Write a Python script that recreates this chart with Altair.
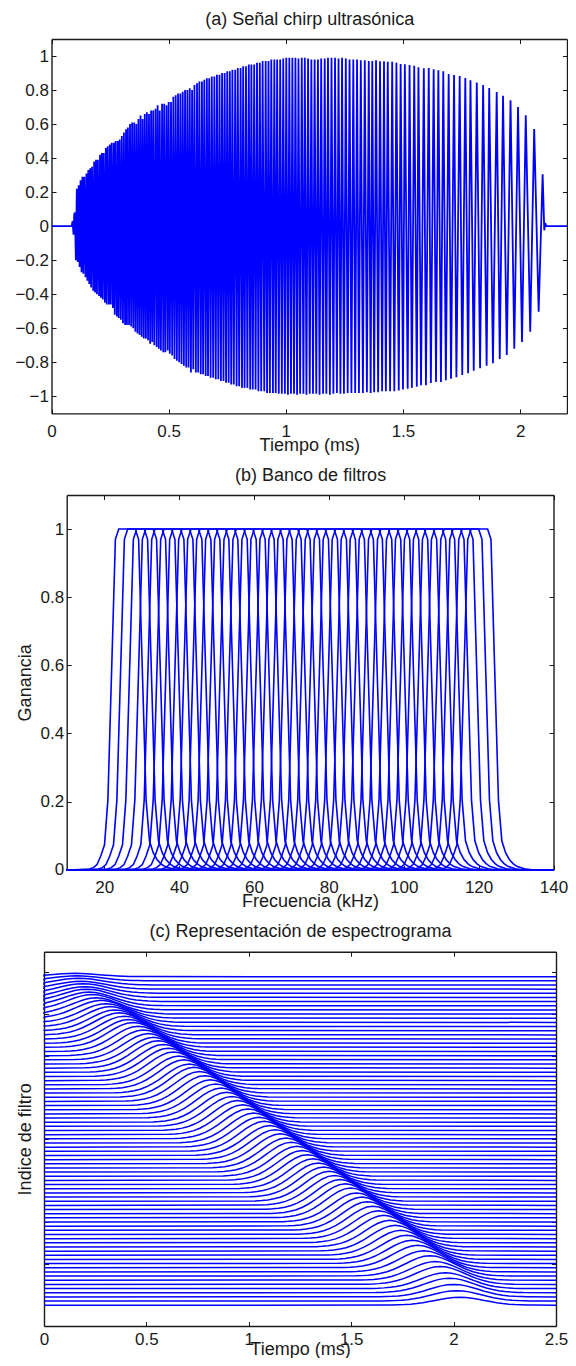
import altair as alt
import pandas as pd

W, H = 560, 1350
FONT = "Liberation Sans"
BLUE = "#0000ff"
INK = "#1a1a1a"

# ---------- (a) chirp extrema ----------
lead_t = [0.0, 0.086, 0.090, 0.094, 0.097]
lead_y = [0.0, 0.0, 0.03, -0.05, 0.07]
top_t = [
 .100,.108,.116,.124,.132,.140,.149,.157,.165,.173,
 .182,.190,.198,.207,.215,.223,.232,.240,.249,.257,
 .266,.274,.283,.291,.300,.309,.318,.326,.335,.344,
 .353,.362,.371,.380,.389,.398,.407,.416,.425,.434,
 .444,.453,.462,.472,.481,.491,.500,.510,.520,.530,
 .540,.550,.560,.570,.580,.590,.600,.610,.621,.631,
 .642,.652,.663,.673,.684,.695,.706,.717,.728,.739,
 .750,.761,.772,.784,.795,.807,.818,.830,.842,.853,
 .865,.877,.889,.901,.914,.926,.938,.951,.963,.976,
 .989,1.002,1.015,1.028,1.041,1.054,1.068,1.081,1.095,1.109,
 1.123,1.137,1.151,1.166,1.180,1.195,1.210,1.225,1.240,1.256,
 1.272,1.288,1.304,1.320,1.337,1.354,1.369,1.385,1.402,1.419,
 1.435,1.454,1.472,1.490,1.508,1.528,1.548,1.566,1.589,1.610,
 1.631,1.651,1.672,1.695,1.718,1.742,1.766,1.788,1.815,1.842,
 1.868,1.900,1.927,1.959,1.991,2.024,2.060,2.096]
top_y = [
 .08,.22,.24,.27,.29,.29,.31,.33,.34,.35,
 .38,.39,.39,.42,.43,.43,.46,.47,.48,.49,
 .49,.50,.50,.51,.53,.55,.57,.58,.60,.61,
 .61,.60,.63,.65,.63,.66,.67,.66,.68,.68,
 .69,.71,.68,.72,.72,.71,.73,.73,.76,.77,
 .78,.78,.79,.80,.80,.81,.80,.83,.84,.85,
 .85,.86,.87,.87,.88,.88,.89,.89,.90,.90,
 .91,.91,.92,.92,.93,.93,.94,.94,.95,.95,
 .95,.96,.96,.97,.97,.97,.98,.98,.98,.98,
 .985,.99,.99,.99,.99,.985,.99,.99,.985,.98,
 .98,.98,.985,.985,.99,.99,.99,.985,.99,.985,
 .98,.98,.98,.975,.975,.97,.97,.975,.969,.969,
 .967,.967,.961,.953,.951,.947,.943,.934,.928,.93,
 .922,.916,.91,.894,.888,.883,.871,.857,.844,.83,
 .812,.789,.767,.74,.70,.652,.571,.305]
bottom_t = [
 .104,.112,.120,.128,.136,.145,.153,.161,.169,.178,
 .186,.194,.203,.211,.219,.228,.236,.245,.253,.262,
 .270,.279,.287,.296,.305,.314,.322,.331,.340,.349,
 .358,.367,.376,.385,.394,.403,.412,.421,.430,.439,
 .449,.458,.467,.477,.486,.496,.505,.515,.525,.535,
 .545,.555,.565,.575,.585,.595,.605,.616,.626,.637,
 .647,.658,.668,.679,.690,.701,.712,.723,.734,.745,
 .756,.767,.778,.790,.801,.813,.824,.836,.848,.859,
 .871,.883,.895,.908,.920,.932,.945,.957,.970,.983,
 .996,1.009,1.022,1.035,1.048,1.061,1.075,1.088,1.102,1.116,
 1.130,1.144,1.159,1.173,1.188,1.203,1.218,1.233,1.248,1.264,
 1.280,1.296,1.312,1.329,1.346,1.362,1.377,1.394,1.411,1.427,
 1.445,1.463,1.482,1.500,1.520,1.538,1.559,1.577,1.598,1.619,
 1.641,1.662,1.683,1.705,1.728,1.753,1.778,1.802,1.829,1.857,
 1.884,1.913,1.943,1.975,2.008,2.043,2.079]
bottom_y = [
 -.20,-.21,-.24,-.27,-.28,-.30,-.32,-.34,-.36,-.38,
 -.39,-.40,-.41,-.42,-.43,-.45,-.46,-.46,-.46,-.48,
 -.52,-.53,-.54,-.55,-.57,-.58,-.58,-.58,-.59,-.60,
 -.62,-.63,-.64,-.65,-.66,-.66,-.67,-.69,-.68,-.70,
 -.71,-.72,-.73,-.74,-.74,-.73,-.75,-.76,-.78,-.79,
 -.80,-.81,-.82,-.83,-.83,-.86,-.84,-.86,-.86,-.87,
 -.87,-.88,-.88,-.89,-.89,-.90,-.90,-.91,-.91,-.92,
 -.92,-.93,-.93,-.94,-.94,-.95,-.95,-.95,-.96,-.96,
 -.96,-.97,-.97,-.97,-.98,-.98,-.98,-.98,-.985,-.985,
 -.985,-.99,-.985,-.985,-.99,-.985,-.985,-.99,-.985,-.985,
 -.985,-.99,-.985,-.985,-.99,-.985,-.98,-.985,-.985,-.98,
 -.98,-.98,-.98,-.98,-.975,-.98,-.975,-.975,-.97,-.97,
 -.97,-.97,-.965,-.96,-.955,-.95,-.943,-.935,-.934,-.922,
 -.915,-.916,-.905,-.896,-.887,-.875,-.864,-.85,-.835,-.82,
 -.805,-.78,-.757,-.72,-.68,-.62,-.503]
tail_t = [2.103, 2.107, 2.112, 2.2]
tail_y = [-.024, .018, 0.0, 0.0]

# ---------- (b) filter bank ----------
filter_centers = [
 26.1,28.5,30.9,33.3,35.8,38.2,40.6,43.0,45.4,47.8,
 50.2,52.6,55.1,57.5,59.9,62.3,64.7,67.1,69.5,71.9,
 74.4,76.8,79.2,81.6,84.0,86.4,88.8,91.2,93.7,96.1,
 98.5,100.9,103.3,105.7,108.1,110.5,113.0,115.4,117.8,120.2]
filter_offsets = [-14,-10,-9,-8,-7,-6,-5.1,-3.8,-3.1,-2.2,2.2,3.1,3.8,5.1,6,7,8,9,10,12,14]
filter_gains = [0,.002,.006,.015,.04,.073,.205,.7,.97,1,1,.97,.7,.205,.085,.05,.03,.018,.01,.003,0]
freq_limits = [10, 140]

# ---------- (c) spectrogram lines (top line first) ----------
bump_centers = [
 .15,.16,.17,.18,.19,.20,.21,.22,.235,.255,
 .279,.303,.324,.347,.368,.392,.414,.436,.461,.486,
 .51,.535,.558,.584,.608,.633,.659,.683,.71,.733,
 .76,.786,.813,.839,.865,.892,.918,.945,.971,.997,
 1.024,1.05,1.076,1.103,1.129,1.155,1.182,1.208,1.235,1.261,
 1.287,1.314,1.34,1.366,1.393,1.419,1.446,1.472,1.498,1.526,
 1.553,1.58,1.606,1.633,1.66,1.688,1.715,1.742,1.77,1.797,
 1.825,1.855,1.885,1.91,1.935,1.96,1.98,2.0,2.015,2.03]
bump_heights = [
 .8,1.2,1.6,1.9,2.3,2.6,3.0,3.3,3.7,3.9,
 4.3,4.5,4.8,5.0,5.3,5.5,5.7,6.0,6.1,6.2,
 6.3,6.4,6.6,6.7,6.8,6.9,6.9,7.0,7.0,7.2,
 7.2,7.2,7.2,7.2,7.2,7.2,7.2,7.2,7.2,7.2,
 7.2,7.2,7.2,7.2,7.2,7.2,7.2,7.2,7.2,7.2,
 7.2,7.2,7.2,7.2,7.2,7.2,7.2,7.2,7.2,7.0,
 7.0,6.9,6.8,6.7,6.6,6.4,6.2,6.0,5.8,5.6,
 5.4,5.1,4.9,4.5,4.3,3.8,3.5,3.0,2.5,1.9]
bump_width = 0.12
bump_u = [-3,-2.75,-2.5,-2.25,-2,-1.75,-1.5,-1.25,-1,-.75,-.5,-.25,0,.25,.5,.75,1,1.25,1.5,1.75,2,2.25,2.5,2.75,3]
bump_v = [.011,.023,.044,.08,.135,.216,.325,.458,.607,.755,.882,.969,1,.969,.882,.755,.607,.458,.325,.216,.135,.08,.044,.023,.011]
time_limits_c = [0.0, 2.5]

# ---------- tick values and labels ----------
a_xticks = [0, .5, 1, 1.5, 2]
a_yticks = [-1, -.8, -.6, -.4, -.2, 0, .2, .4, .6, .8, 1]
b_xticks = [20, 40, 60, 80, 100, 120, 140]
b_yticks = [0, .2, .4, .6, .8, 1]
c_xticks = [0, .5, 1, 1.5, 2, 2.5]
c_yticks = [0, 10, 20, 30, 40, 50, 60, 70, 80]

# ---------- tables ----------
pts = sorted(list(zip(lead_t, lead_y)) + list(zip(top_t, top_y)) +
             list(zip(bottom_t, bottom_y)) + list(zip(tail_t, tail_y)))
df_a = pd.DataFrame(pts, columns=["x", "y"]).assign(s=0)
df_a["i"] = range(len(df_a))

rows = []
for s, c in enumerate(filter_centers):
    rows.append((s, 0, freq_limits[0], 0))
    for i, (o, g) in enumerate(zip(filter_offsets, filter_gains)):
        rows.append((s, i + 1, c + o, g))
    rows.append((s, 99, freq_limits[1], 0))
df_b = pd.DataFrame(rows, columns=["s", "i", "x", "y"])

rows = []
n = len(bump_centers)
for k, (c, h) in enumerate(zip(bump_centers, bump_heights)):
    base = n - 1 - k
    rows.append((k, -1, -1.0, base))
    for i, (u, v) in enumerate(zip(bump_u, bump_v)):
        rows.append((k, i, c + u * bump_width, base + h * v))
    rows.append((k, 99, time_limits_c[1], base))
df_c = pd.DataFrame(rows, columns=["s", "i", "x", "y"])

# ---------- axis helpers ----------
BASE = dict(grid=False, labelFont=FONT, titleFont=FONT, labelColor=INK, titleColor=INK,
            titleFontWeight="normal", domainColor=INK, tickColor=INK, labelOverlap=False,
            labelFlush=False, titleFontSize=18, labelFontSize=17)
FRAME = 1.4
TICK = 4.5


def scale(domain, rng, clamp=False):
    return alt.Scale(domain=domain, range=rng, nice=False, zero=False, clamp=clamp)


def enc(dx, rx, dy, ry, ax, ay, clamp=False):
    return dict(
        x=alt.X("x:Q", scale=scale(dx, rx, clamp), axis=ax),
        y=alt.Y("y:Q", scale=scale(dy, ry), axis=ay),
    )


def panel(df, dx, rx, dy, ry, xt, yt, xtitle, ytitle, title, stroke, clamp=False, label_y=True,
          ypad=6, tpad=11, xpad=-3, lpad=10):
    x0, x1 = rx
    yb, yt_px = ry
    corners = pd.DataFrame({"x": dx, "y": dy})
    main_x = alt.Axis(orient="bottom", offset=yb - H, values=xt, ticks=False, domain=False,
                      labelPadding=lpad, title=xtitle, titlePadding=xpad, format=".1~f", **BASE)
    main_y = alt.Axis(orient="left", offset=-x0, values=yt, ticks=False, domain=False,
                      labels=label_y, labelPadding=3, title=ytitle, titlePadding=ypad,
                      format=".1~f", **BASE)
    data = alt.Chart(df).mark_line(color=BLUE, strokeWidth=stroke, clip=False).encode(
        detail="s:N", order="i:Q", **enc(dx, rx, dy, ry, main_x, main_y, clamp))
    # bottom and left frame, ticks pointing into the box
    in_a_x = alt.Axis(orient="top", offset=-yb, values=xt, labels=False, title=None,
                      tickSize=TICK, tickWidth=1, domainWidth=FRAME, **BASE)
    in_a_y = alt.Axis(orient="right", offset=x0 - W, values=yt, labels=False, title=None,
                      tickSize=TICK, tickWidth=1, domainWidth=FRAME, **BASE)
    frame_a = alt.Chart(corners).mark_point(opacity=0).encode(
        **enc(dx, rx, dy, ry, in_a_x, in_a_y))
    # top and right frame
    in_b_x = alt.Axis(orient="bottom", offset=yt_px - H, values=xt, labels=False, title=None,
                      tickSize=TICK, tickWidth=1, domainWidth=FRAME, **BASE)
    in_b_y = alt.Axis(orient="left", offset=-x1, values=yt, labels=False, title=None,
                      tickSize=TICK, tickWidth=1, domainWidth=FRAME, **BASE)
    frame_b = alt.Chart(corners).mark_point(opacity=0).encode(
        **enc(dx, rx, dy, ry, in_b_x, in_b_y))
    # panel title, carried by an axis above the box
    t_x = alt.Axis(orient="top", offset=-yt_px, values=[], labels=False, ticks=False, domain=False,
                   title=title, titlePadding=tpad, **BASE)
    heading = alt.Chart(corners).mark_point(opacity=0).encode(
        **enc(dx, rx, dy, ry, t_x, None))
    return [data, frame_a, frame_b, heading]


layers = []
layers += panel(df_a, [0, 2.2], [43.5, 559], [-1.1, 1.1], [405.4, 31], a_xticks, a_yticks,
                "Tiempo (ms)", None, "(a) Señal chirp ultrasónica", 1.8)
layers += panel(df_b, [10, 140], [58.7, 545.5], [0, 1.1], [861.7, 487], b_xticks, b_yticks,
                "Frecuencia (kHz)", "Ganancia", "(b) Banco de filtros", 1.6)
layers += panel(df_c, [0, 2.5], [36, 548], [-5, 85], [1318, 943.7], c_xticks, c_yticks,
                "Tiempo (ms)", "Indice de filtro", "(c) Representación de espectrograma", 1.5,
                clamp=True, label_y=False, ypad=10, xpad=-7, lpad=5)

chart = alt.layer(*layers).resolve_scale(x="independent", y="independent").properties(
    width=W, height=H, padding=0, autosize=alt.AutoSizeParams(type="none"),
).configure_view(stroke=None)

chart.save("out.html", embed_options={"renderer": "svg", "actions": False})
